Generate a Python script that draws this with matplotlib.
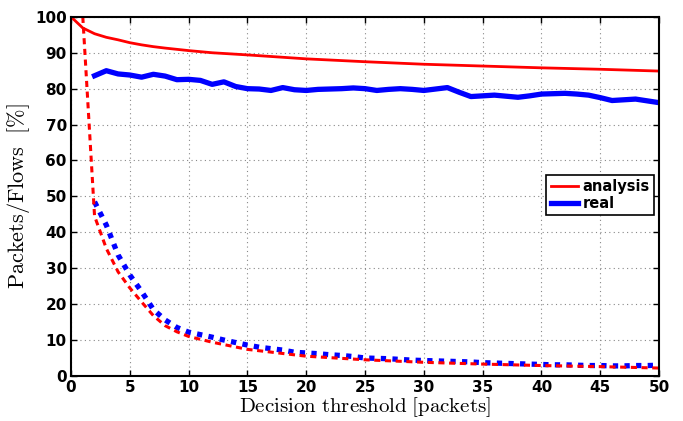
import numpy as np
import matplotlib.pyplot as plt

plt.rcParams['mathtext.fontset'] = 'cm'

# analytic curves (packets and flows share of total)
x_an_pkt = [0, 1, 2, 3, 4, 5, 6, 7, 8, 10, 12, 15, 20, 25, 30, 35, 40, 45, 50]
y_an_pkt = [100, 96.9, 95.3, 94.3, 93.6, 92.8, 92.2, 91.7, 91.3, 90.6, 90.0, 89.4,
            88.3, 87.5, 86.8, 86.3, 85.8, 85.4, 84.9]

x_an_flow = [1, 2, 3, 4, 5, 6, 7, 8, 9, 10, 12, 15, 20, 25, 30, 35, 40, 45, 50]
y_an_flow = [100, 44.5, 35.5, 29.0, 24.5, 20.6, 16.8, 14.0, 12.3, 11.0, 9.4, 7.4,
             5.5, 4.5, 3.8, 3.3, 2.9, 2.6, 2.2]

# measured curves
x_real = list(range(2, 51))
y_real_pkt = [83.6, 85.0, 84.1, 83.8, 83.2, 84.0, 83.5, 82.5, 82.6, 82.3,
              81.2, 81.9, 80.6, 80.0, 79.9, 79.5, 80.3, 79.7, 79.5, 79.8,
              79.9, 80.0, 80.2, 80.0, 79.5, 79.8, 80.0, 79.8, 79.5, 79.9,
              80.3, 79.0, 77.8, 78.0, 78.2, 77.9, 77.6, 78.0, 78.5, 78.6,
              78.7, 78.5, 78.2, 77.5, 76.7, 76.9, 77.1, 76.6, 76.1]
y_real_flow = [48.5, 42.0, 33.7, 28.1, 23.5, 18.5, 15.6, 13.5, 12.2, 11.5,
               10.8, 10.0, 9.3, 8.6, 8.0, 7.6, 7.2, 6.6, 6.4, 6.2,
               5.9, 5.7, 5.4, 5.0, 4.9, 4.8, 4.6, 4.4, 4.3, 4.2,
               4.1, 4.0, 3.9, 3.7, 3.6, 3.5, 3.4, 3.3, 3.2, 3.1,
               3.1, 3.0, 2.9, 2.9, 2.8, 2.8, 2.9, 2.9, 3.0]

fig = plt.figure(figsize=(6.83, 4.21), dpi=100)
ax = fig.add_axes([0.104, 0.107, 0.861, 0.853])

ax.plot(x_an_pkt, y_an_pkt, color='red', lw=2.0, label='analysis')
ax.plot(x_real, y_real_pkt, color='blue', lw=3.8, label='real')
ax.plot(x_real, y_real_flow, color='blue', lw=3.8, ls=(0, (1, 1.2)))
ax.plot(x_an_flow, y_an_flow, color='red', lw=2.2, ls=(0, (2, 1.5)))

ax.set_xlim(0, 50)
ax.set_ylim(0, 100)
ax.set_xticks(np.arange(0, 51, 5))
ax.set_yticks(np.arange(0, 101, 10))
ax.grid(True, ls=(0, (1, 3)), color='#888888', lw=0.8)
ax.tick_params(direction='in', top=True, right=True, length=4, width=1,
               labelsize=11, pad=3)
for lbl in ax.get_xticklabels() + ax.get_yticklabels():
    lbl.set_fontweight('bold')
for s in ax.spines.values():
    s.set_linewidth(1.5)

ax.set_xlabel(r'$\mathrm{Decision\ threshold\ [packets]}$', fontsize=15, labelpad=0)
ax.set_ylabel(r'$\mathrm{Packets/Flows\ \ [\%]}$', fontsize=16, labelpad=2)

leg = ax.legend(loc='upper right', bbox_to_anchor=(0.992, 0.56),
                prop={'weight': 'bold', 'size': 10.5}, fancybox=False,
                edgecolor='black', framealpha=1, borderpad=0.3,
                handlelength=1.9, handletextpad=0.3, labelspacing=0.1,
                borderaxespad=0)
leg.get_frame().set_linewidth(1.2)

fig.savefig('out.png', dpi=100)
